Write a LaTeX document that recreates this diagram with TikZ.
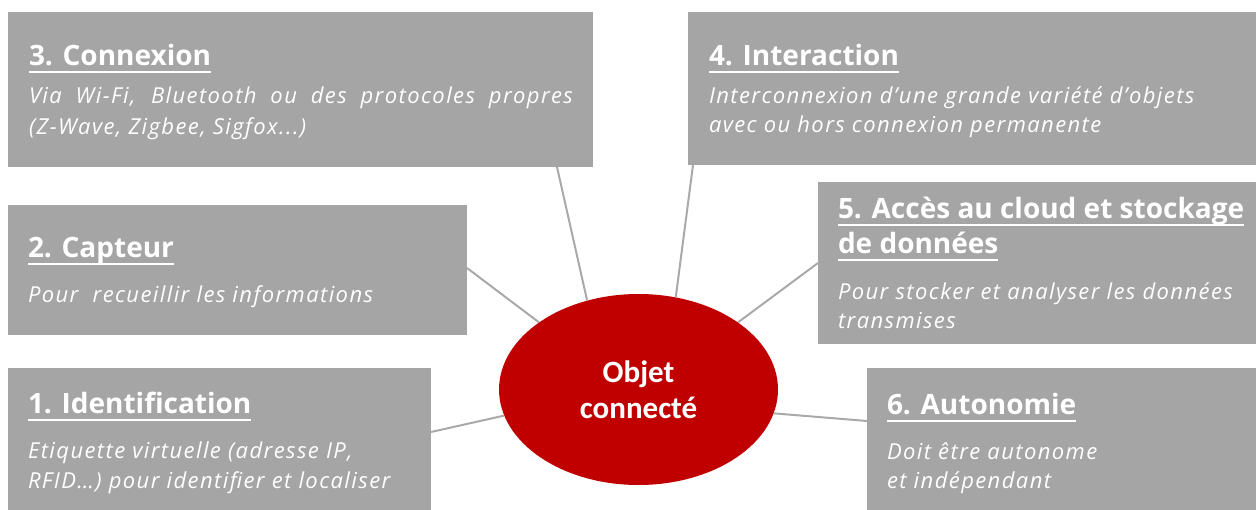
\documentclass[tikz,border=0pt]{standalone}
\usepackage{fontspec}
\setmainfont{Open Sans}
\newfontfamily\ovalfont{Carlito}
\newfontfamily\notefont{Open Sans}[LetterSpace=6.4]
\usetikzlibrary{calc,shapes.geometric}
\definecolor{panelgray}{HTML}{A5A5A5}
\definecolor{linkgray}{HTML}{A9A9A9}
\definecolor{ovalred}{HTML}{C00000}
\tikzset{
  panel/.style={fill=panelgray, draw=none, anchor=north west, inner sep=0pt, outer sep=0pt},
  head/.style={anchor=base west, inner sep=0pt, outer sep=0pt, text=white,
    font=\bfseries\fontsize{28}{34}\selectfont},
  body/.style={anchor=base west, inner sep=0pt, outer sep=0pt, text=white,
    font=\notefont\itshape\fontsize{22}{28}\selectfont},
  link/.style={draw=linkgray, line width=2pt},
  rule/.style={draw=white, line width=2pt},
  oval/.style={ellipse, fill=ovalred, draw=none, inner sep=0pt,
    minimum width=279pt, minimum height=191pt, text=white, align=center,
    font=\ovalfont\bfseries\fontsize{31}{36}\selectfont},
}
% underline a title node
\newcommand\headrule[1]{\draw[rule] ($(#1.base west)+(0,6)$) -- ($(#1.base east)+(0,6)$);}
\begin{document}
\begin{tikzpicture}[x=1pt,y=-1pt]
\useasboundingbox (0,0) rectangle (1256,510);

% panels
\node[panel, minimum width=585pt, minimum height=155pt] (b3) at (8,12) {};
\node[panel, minimum width=568pt, minimum height=153pt] (b4) at (688,12) {};
\node[panel, minimum width=459pt, minimum height=130pt] (b2) at (8,205) {};
\node[panel, minimum width=438pt, minimum height=162pt] (b5) at (818,182) {};
\node[panel, minimum width=423pt, minimum height=142pt] (b1) at (8,368) {};
\node[panel, minimum width=389pt, minimum height=142pt] (b6) at (867,368) {};

% centre
\node[oval] (e) at (638.5,389.5) {Objet\\connecté};

% spokes
\draw[link] ($(b3.south west)+(549,0)$) -- (e.120);
\draw[link] ($(b4.south west)+(5,0)$) -- (e.68.5);
\draw[link] ($(b2.north east)+(0,63)$) -- (e.146.5);
\draw[link] ($(b5.north west)+(0,81)$) -- (e.34.4);
\draw[link] ($(b1.north east)+(0,64)$) -- (e.191);
\draw[link] ($(b6.north west)+(0,53)$) -- (e.350.8);

% 3. Connexion
\node[head] (h3) at (29,66) {3. Connexion};
\headrule{h3}
\node[body] (d3a) at (29,104) {\makebox[544pt][s]{Via Wi-Fi, Bluetooth ou des protocoles propres}};
\node[body] (d3b) at (29,135) {(Z-Wave, Zigbee, Sigfox...)};

% 4. Interaction
\node[head] (h4) at (709,66) {4. Interaction};
\headrule{h4}
\node[body] (d4a) at (709,104) {Interconnexion d’une grande variété d’objets};
\node[body] (d4b) at (709,133) {avec ou hors connexion permanente};

% 2. Capteur
\node[head] (h2) at (28,258) {2. Capteur};
\headrule{h2}
\node[body] (d2a) at (28,303) {Pour\ \ recueillir les informations};

% 5. Acces au cloud
\node[head] (h5a) at (838,219) {5. Accès au cloud et stockage};
\headrule{h5a}
\node[head] (h5b) at (838,254) {de données};
\headrule{h5b}
\node[body] (d5a) at (838,300) {Pour stocker et analyser les données};
\node[body] (d5b) at (838,329) {transmises};

% 1. Identification
\node[head] (h1) at (28,414) {1. Identification};
\headrule{h1}
\node[body] (d1a) at (28,459) {Etiquette virtuelle (adresse IP,};
\node[body] (d1b) at (28,488) {RFID…) pour identifier et localiser};

% 6. Autonomie
\node[head] (h6) at (887,415) {6. Autonomie};
\headrule{h6}
\node[body] (d6a) at (887,460) {Doit être autonome};
\node[body] (d6b) at (887,488) {et indépendant};
\end{tikzpicture}
\end{document}
